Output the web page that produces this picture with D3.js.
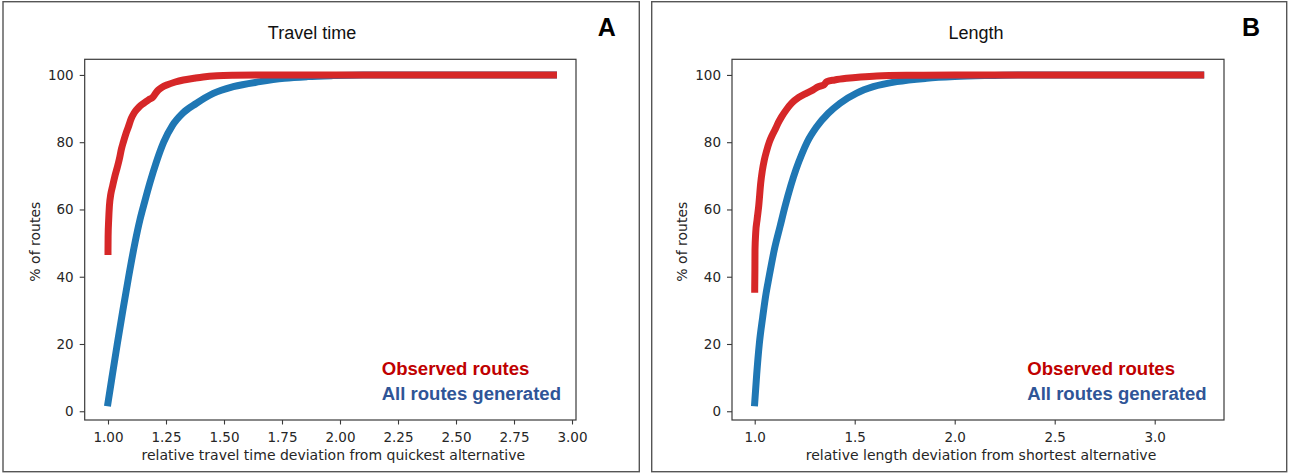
<!DOCTYPE html>
<html>
<head>
<meta charset="utf-8">
<script src="https://cdn.jsdelivr.net/npm/d3@7"></script>
<style>
  html, body { margin: 0; padding: 0; background: #fff; }
  svg { display: block; }
</style>
</head>
<body>
<svg id="chart" width="1293" height="473"></svg>
<script>
// ---- Data: cumulative share of routes (%) vs. relative deviation ----
const yTicks = [0, 20, 40, 60, 80, 100];

// Panel A: travel time
const timeTicks = [1.00, 1.25, 1.50, 1.75, 2.00, 2.25, 2.50, 2.75, 3.00];
const timeObservedX = [1.000, 1.0005, 1.003, 1.006, 1.012, 1.020, 1.030, 1.040, 1.049, 1.058, 1.066, 1.077, 1.088, 1.100, 1.112, 1.125, 1.140, 1.152, 1.175, 1.195, 1.205, 1.217, 1.235, 1.253, 1.290, 1.325, 1.370, 1.410, 1.470, 1.540, 1.700, 2.000, 2.920];
const timeObservedY = [47.5, 52.0, 57.0, 61.0, 64.5, 67.0, 70.0, 72.5, 75.0, 78.0, 80.0, 82.5, 84.6, 87.0, 88.6, 89.8, 90.9, 91.5, 92.6, 93.5, 94.5, 95.5, 96.4, 97.0, 97.9, 98.5, 99.0, 99.4, 99.75, 99.9, 100, 100, 100];
const timeAllX = [1.000, 1.017, 1.040, 1.064, 1.089, 1.116, 1.138, 1.157, 1.181, 1.208, 1.240, 1.278, 1.322, 1.380, 1.454, 1.540, 1.655, 1.760, 1.860, 1.970, 2.100, 2.920];
const timeAllY = [2.5, 10.0, 20.0, 30.0, 40.0, 50.0, 57.0, 62.0, 68.0, 74.0, 80.0, 85.0, 88.6, 91.5, 94.5, 96.5, 98.0, 99.0, 99.5, 99.8, 100, 100];

// Panel B: length
const lengthTicks = [1.0, 1.5, 2.0, 2.5, 3.0];
const lengthObservedX = [1.000, 1.001, 1.0015, 1.005, 1.012, 1.020, 1.030, 1.038, 1.048, 1.060, 1.073, 1.087, 1.1015, 1.118, 1.135, 1.160, 1.185, 1.220, 1.260, 1.290, 1.318, 1.345, 1.360, 1.400, 1.460, 1.530, 1.610, 1.800, 2.000, 3.230];
const lengthObservedY = [36.3, 42.0, 48.0, 53.0, 57.0, 61.0, 67.8, 71.5, 74.7, 77.5, 80.0, 82.0, 83.7, 85.8, 87.6, 89.8, 91.6, 93.3, 94.6, 95.5, 96.5, 97.0, 98.0, 98.5, 99.0, 99.4, 99.7, 99.9, 100, 100];
const lengthAllX = [1.000, 1.010, 1.023, 1.040, 1.054, 1.072, 1.098, 1.127, 1.152, 1.180, 1.207, 1.236, 1.262, 1.310, 1.368, 1.427, 1.510, 1.593, 1.710, 1.860, 2.000, 2.150, 2.350, 3.230];
const lengthAllY = [2.5, 11.0, 20.0, 28.0, 34.0, 40.0, 48.0, 55.0, 61.0, 67.0, 72.0, 76.5, 80.0, 84.6, 88.6, 91.6, 94.6, 96.5, 98.0, 99.0, 99.5, 99.8, 100, 100];

const zip = (xs, ys) => xs.map((x, i) => [x, ys[i]]);

const panels = [
  {
    letter: "A", title: "Travel time",
    xlabel: "relative travel time deviation from quickest alternative",
    ticks: timeTicks, tickFmt: d3.format(".2f"),
    observed: zip(timeObservedX, timeObservedY),
    all: zip(timeAllX, timeAllY),
    frame: [3, 1.7, 639.3, 471.7],
    axes: { left: 84.7, right: 576, top: 59.3, bottom: 420 },
    xDomain: [0.8996, 3.0172],
    titleX: 312, letterX: 606.7, legendX: 381.7
  },
  {
    letter: "B", title: "Length",
    xlabel: "relative length deviation from shortest alternative",
    ticks: lengthTicks, tickFmt: d3.format(".1f"),
    observed: zip(lengthObservedX, lengthObservedY),
    all: zip(lengthAllX, lengthAllY),
    frame: [651.7, 1.7, 1286.7, 471.7],
    axes: { left: 732, right: 1224, top: 59.3, bottom: 420 },
    xDomain: [0.8865, 3.3465],
    titleX: 976, letterX: 1251, legendX: 1027.3
  }
];

const svg = d3.select("#chart");
const tickFont = "'DejaVu Sans', sans-serif";
const textFont = "'Liberation Sans', Arial, sans-serif";

panels.forEach(p => {
  const g = svg.append("g");
  const a = p.axes;

  // panel border
  g.append("rect")
    .attr("x", p.frame[0]).attr("y", p.frame[1])
    .attr("width", p.frame[2] - p.frame[0]).attr("height", p.frame[3] - p.frame[1])
    .attr("fill", "none").attr("stroke", "#555").attr("stroke-width", 1.4);

  const x = d3.scaleLinear().domain(p.xDomain).range([a.left, a.right]);
  const y = d3.scaleLinear().domain([-2.6, 104.65]).range([a.bottom, a.top]);

  // curves
  const line = d3.line().x(d => x(d[0])).y(d => y(d[1])).curve(d3.curveMonotoneX);
  const clipId = "clip" + p.letter;
  g.append("clipPath").attr("id", clipId).append("rect")
    .attr("x", a.left).attr("y", a.top)
    .attr("width", a.right - a.left).attr("height", a.bottom - a.top);
  const curves = g.append("g").attr("clip-path", `url(#${clipId})`);
  curves.append("path").datum(p.all)
    .attr("d", line).attr("fill", "none")
    .attr("stroke", "#1f77b4").attr("stroke-width", 7)
    .attr("stroke-linecap", "square").attr("stroke-linejoin", "round");
  curves.append("path").datum(p.observed)
    .attr("d", line).attr("fill", "none")
    .attr("stroke", "#d62728").attr("stroke-width", 7)
    .attr("stroke-linecap", "square").attr("stroke-linejoin", "round");

  // axes box
  g.append("rect")
    .attr("x", a.left).attr("y", a.top)
    .attr("width", a.right - a.left).attr("height", a.bottom - a.top)
    .attr("fill", "none").attr("stroke", "#3a3a3a").attr("stroke-width", 1.2);

  // x axis
  const xAxis = g.append("g").attr("transform", `translate(0,${a.bottom})`)
    .call(d3.axisBottom(x).tickValues(p.ticks).tickFormat(p.tickFmt)
      .tickSize(4.5).tickPadding(8));
  xAxis.select(".domain").remove();
  xAxis.selectAll(".tick line").attr("stroke", "#3a3a3a").attr("stroke-width", 1.1);
  xAxis.selectAll(".tick text")
    .style("font-family", tickFont).style("font-size", "13.5px").attr("fill", "#262626");

  // y axis
  const yAxis = g.append("g").attr("transform", `translate(${a.left},0)`)
    .call(d3.axisLeft(y).tickValues(yTicks).tickSize(5).tickPadding(6));
  yAxis.select(".domain").remove();
  yAxis.selectAll(".tick line").attr("stroke", "#3a3a3a").attr("stroke-width", 1.1);
  yAxis.selectAll(".tick text")
    .style("font-family", tickFont).style("font-size", "13.5px").attr("fill", "#262626");

  // axis labels
  g.append("text")
    .attr("x", (a.left + a.right) / 2 + 3).attr("y", 460)
    .attr("text-anchor", "middle")
    .style("font-family", tickFont).style("font-size", "14px").attr("fill", "#262626")
    .text(p.xlabel);
  g.append("text")
    .attr("transform", `translate(${a.left - 44.7},${(a.top + a.bottom) / 2 + 2}) rotate(-90)`)
    .attr("text-anchor", "middle")
    .style("font-family", tickFont).style("font-size", "14px").attr("fill", "#262626")
    .text("% of routes");

  // title and panel letter
  g.append("text")
    .attr("x", p.titleX).attr("y", 39.3)
    .attr("text-anchor", "middle")
    .style("font-family", textFont).style("font-size", "18px").attr("fill", "#111")
    .text(p.title);
  g.append("text")
    .attr("x", p.letterX).attr("y", 36.3)
    .attr("text-anchor", "middle")
    .style("font-family", textFont).style("font-weight", "bold")
    .style("font-size", "25px").attr("fill", "#000")
    .text(p.letter);

  // legend text
  g.append("text")
    .attr("x", p.legendX).attr("y", 375)
    .style("font-family", textFont).style("font-weight", "bold")
    .style("font-size", "18px").attr("fill", "#c00000")
    .attr("textLength", 147.7).attr("lengthAdjust", "spacingAndGlyphs")
    .text("Observed routes");
  g.append("text")
    .attr("x", p.legendX).attr("y", 399.5)
    .style("font-family", textFont).style("font-weight", "bold")
    .style("font-size", "18px").attr("fill", "#2f5597")
    .attr("textLength", 179.3).attr("lengthAdjust", "spacingAndGlyphs")
    .text("All routes generated");
});
</script>
</body>
</html>
